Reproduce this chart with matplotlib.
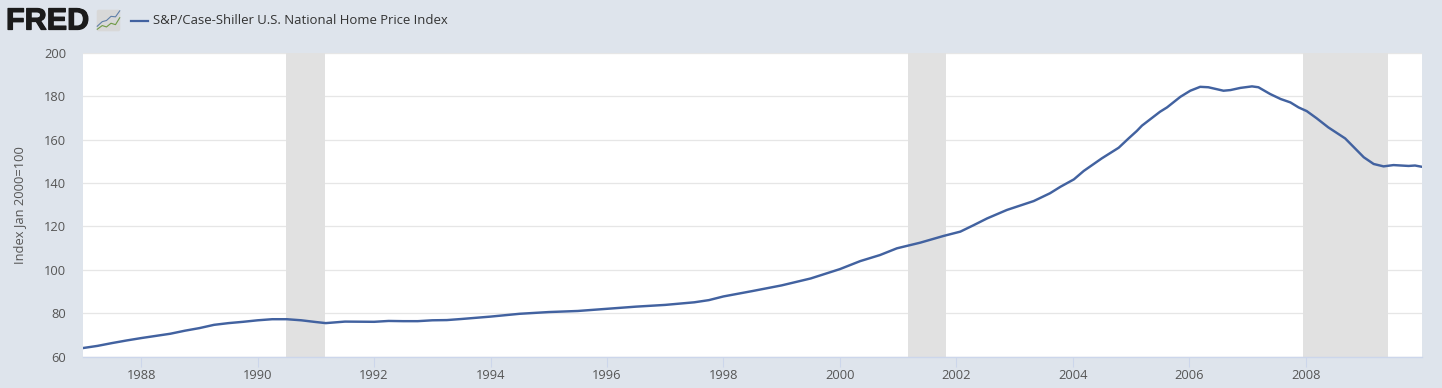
import matplotlib
matplotlib.use("Agg")
import matplotlib.pyplot as plt
import matplotlib.patheffects as pe
from matplotlib.patches import FancyBboxPatch

W, H = 1442, 388
BG = "#dee4ec"
LINE_COLOR = "#4262a0"

years = [
    1987.0, 1987.25, 1987.5, 1987.75, 1988.0, 1988.25, 1988.5, 1988.75,
    1989.0, 1989.25, 1989.5, 1989.75, 1990.0, 1990.25, 1990.5, 1990.75,
    1991.0, 1991.17, 1991.5, 1992.0, 1992.25, 1992.5, 1992.75, 1993.0,
    1993.25, 1993.5, 1994.0, 1994.5, 1995.0, 1995.5, 1996.0, 1996.5,
    1997.0, 1997.5, 1997.75, 1998.0, 1998.5, 1999.0, 1999.5, 2000.0,
    2000.35, 2000.69, 2000.98, 2001.38, 2001.78, 2002.07, 2002.3, 2002.53,
    2002.87, 2003.33, 2003.61, 2003.79, 2004.02, 2004.19, 2004.5, 2004.79,
    2004.96, 2005.1, 2005.19, 2005.5, 2005.62, 2005.85, 2006.02, 2006.19,
    2006.33, 2006.59, 2006.71, 2006.88, 2007.08, 2007.19, 2007.39, 2007.57,
    2007.74, 2007.88, 2008.02, 2008.19, 2008.39, 2008.68, 2008.82, 2009.0,
    2009.17, 2009.34, 2009.51, 2009.77, 2009.88, 2010.0,
]
index_values = [
    63.9, 64.9, 66.2, 67.4, 68.5, 69.5, 70.5, 71.9,
    73.1, 74.6, 75.4, 76.0, 76.7, 77.2, 77.2, 76.7,
    75.9, 75.4, 76.1, 76.0, 76.4, 76.3, 76.3, 76.7,
    76.8, 77.3, 78.4, 79.7, 80.5, 81.0, 82.0, 83.0,
    83.8, 85.0, 86.0, 87.7, 90.2, 92.8, 96.0, 100.3,
    104.0, 106.8, 109.9, 112.5, 115.6, 117.6, 120.6, 123.7,
    127.6, 131.7, 135.3, 138.3, 141.7, 145.6, 151.4, 156.3,
    160.6, 164.0, 166.5, 172.9, 174.9, 179.8, 182.6, 184.4,
    184.2, 182.6, 182.9, 183.9, 184.6, 184.2, 181.1, 178.8,
    177.2, 174.9, 173.2, 169.9, 165.7, 160.6, 156.8, 151.9,
    148.8, 147.7, 148.3, 147.9, 148.1, 147.5,
]

recessions = [(1990.49, 1991.16), (2001.17, 2001.83), (2007.95, 2009.42)]
y_ticks = [60, 80, 100, 120, 140, 160, 180, 200]
x_ticks = list(range(1988, 2010, 2))
series_name = "S&P/Case-Shiller U.S. National Home Price Index"
icon_x = [0.05, 0.25, 0.42, 0.6, 0.78, 0.95]
icon_blue = [0.25, 0.45, 0.5, 0.68, 0.66, 0.92]
icon_green = [0.12, 0.28, 0.22, 0.38, 0.32, 0.62]

plt.rcParams["font.family"] = ["Open Sans", "DejaVu Sans"]

fig = plt.figure(figsize=(W / 100, H / 100), dpi=100, facecolor=BG)
ax = fig.add_axes([83 / W, 1 - 356.5 / H, (1422 - 83) / W, (356.5 - 53) / H])
ax.set_facecolor("white")

for start, end in recessions:
    ax.axvspan(start, end, facecolor="#e1e1e1", edgecolor="none", zorder=1)

ax.plot(years, index_values, color=LINE_COLOR, linewidth=1.75, zorder=3,
        solid_joinstyle="round")

ax.set_xlim(1987.0, 2010.0)
ax.set_ylim(60, 200)
ax.set_xticks(x_ticks)
ax.set_yticks(y_ticks)
ax.grid(axis="y", color="#e6e6e6", linewidth=0.9, zorder=0)
ax.set_axisbelow(True)
for name, spine in ax.spines.items():
    spine.set_visible(name == "bottom")
ax.spines["bottom"].set_color("#ccd6eb")
ax.spines["bottom"].set_linewidth(1.0)
ax.tick_params(axis="x", length=7.2, width=0.8, color="#ccd6eb", pad=2,
               labelsize=9.3, labelcolor="#555555")
ax.tick_params(axis="y", length=0, pad=12, labelsize=9.3, labelcolor="#555555")
ax.set_ylabel("Index Jan 2000=100", fontsize=9.3, color="#555555")
ax.yaxis.set_label_coords((26.5 - 83) / (1422 - 83), 0.5)

# header: logo and legend
logo = fig.text(6 / W, 1 - 21.5 / H, "FRED", fontsize=22, fontweight="bold", color="#1b1b1b",
                family=["Liberation Sans", "DejaVu Sans"], va="center", ha="left")
logo.set_path_effects([pe.withStroke(linewidth=0.9, foreground="#1b1b1b")])
icon = fig.add_axes([96 / W, 1 - 32 / H, 25 / W, 23 / H])
icon.axis("off")
icon.set_xlim(0, 1)
icon.set_ylim(0, 1)
icon.add_patch(FancyBboxPatch((0.03, 0.03), 0.94, 0.94, boxstyle="round,pad=0,rounding_size=0.08",
                              facecolor="#d8d8d8", edgecolor="none"))
icon.plot(icon_x, icon_blue, color="#5f7fa8", linewidth=0.8)
icon.plot(icon_x, icon_green, color="#6f9a45", linewidth=0.8)

fig.add_artist(plt.Line2D([131 / W, 148 / W], [1 - 20.5 / H] * 2, color=LINE_COLOR,
                          linewidth=1.6))
fig.text(153 / W, 1 - 20.5 / H, series_name, fontsize=9.42, color="#333333",
         va="center", ha="left")

fig.savefig("out.png", dpi=100, facecolor=BG)
